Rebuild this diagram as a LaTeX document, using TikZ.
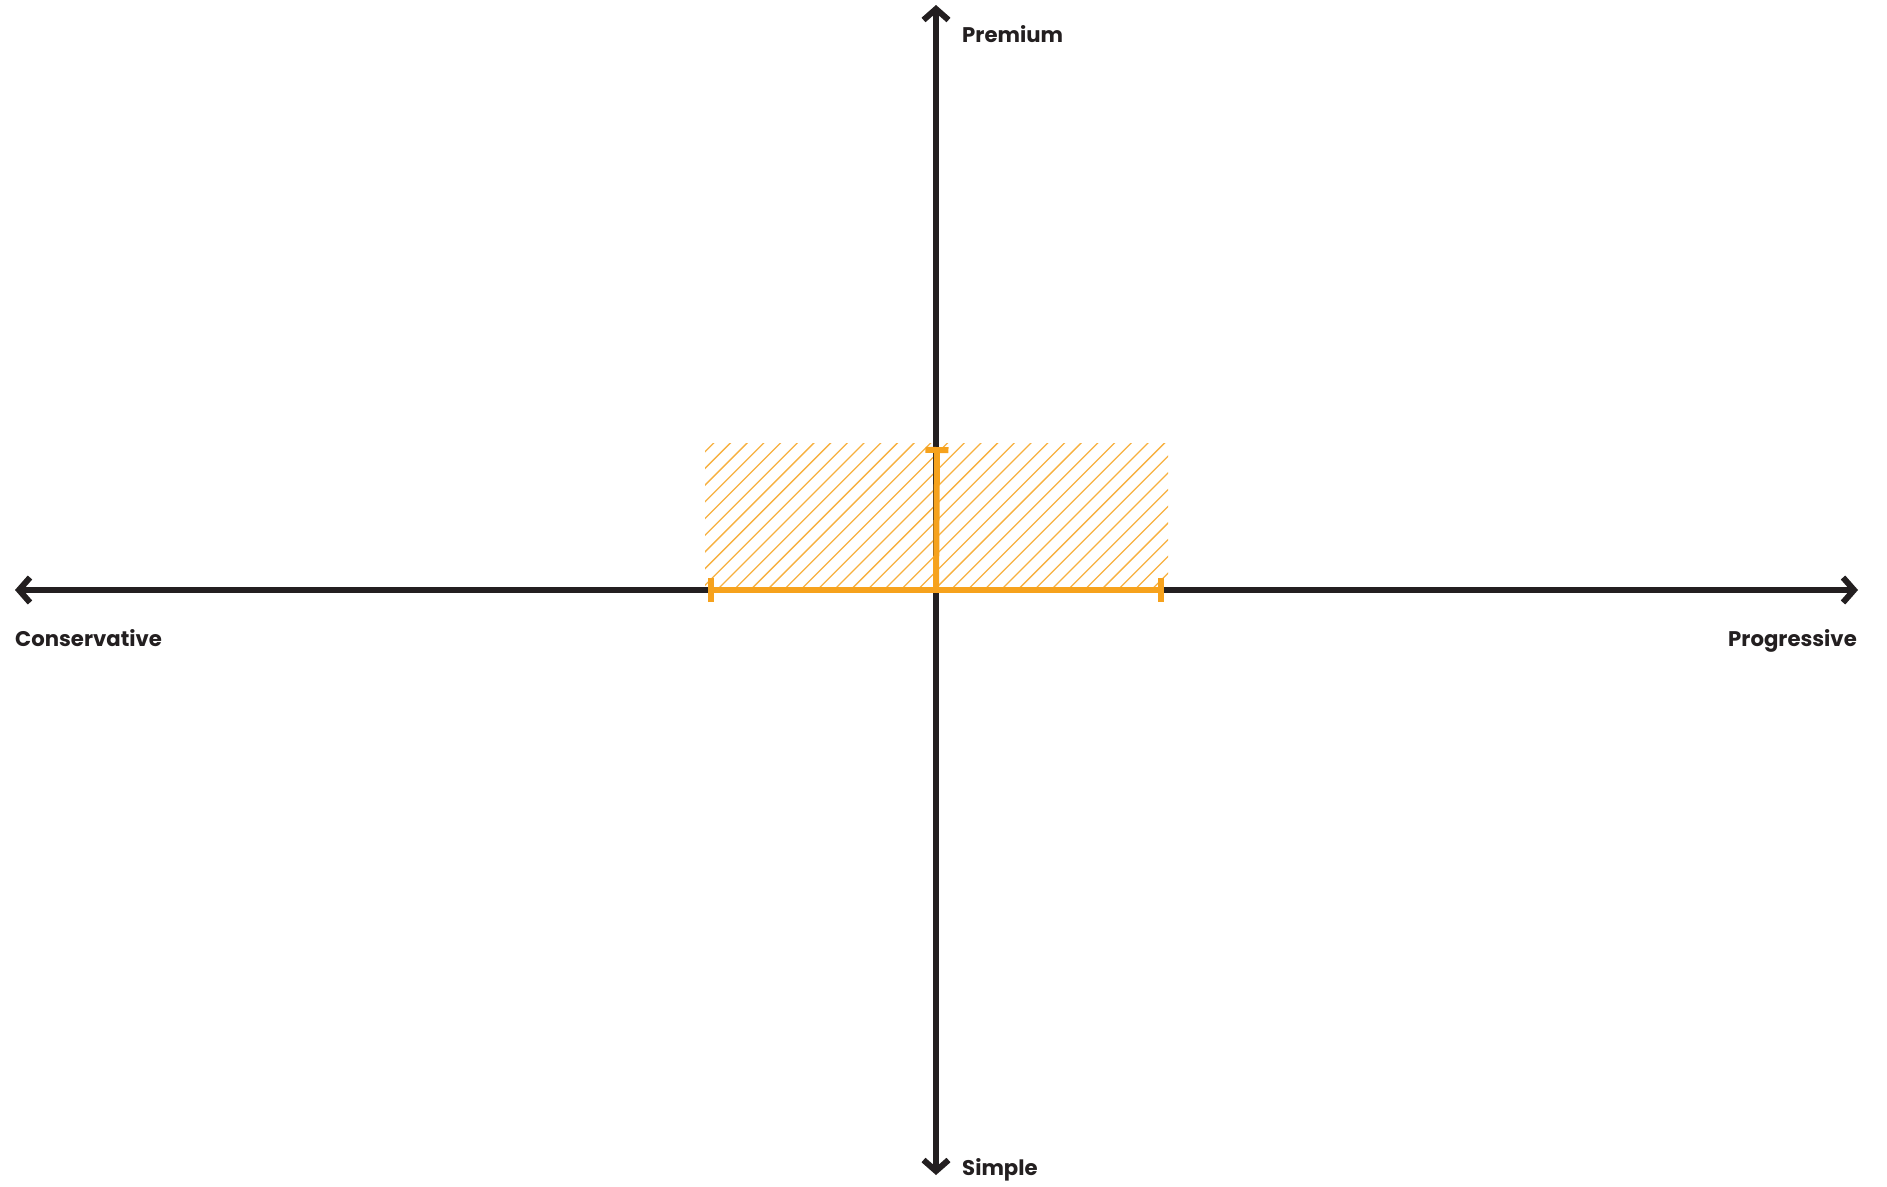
\documentclass[tikz,border=0pt]{standalone}
\usepackage{fontspec}
\setmainfont{Poppins}
\usetikzlibrary{arrows.meta}
\definecolor{axisdark}{HTML}{231F20}
\definecolor{rangeorange}{HTML}{F6A21D}

\begin{document}
\begin{tikzpicture}[x=1pt, y=-1pt,
    font=\fontsize{21.2}{26}\selectfont\bfseries,
    axis/.style={line width=6pt, draw=axisdark,
      {Straight Barb[length=11pt, width=25pt]}-{Straight Barb[length=11pt, width=25pt]}},
    axislabel/.style={inner sep=0pt, text=axisdark},
    rangebar/.style={line width=6pt, draw=rangeorange},
    hatch/.style={line width=1.3pt, draw=rangeorange!85}
  ]
    \useasboundingbox (0,0) rectangle (1887,1186);

    % axes
    \coordinate (origin) at (936,590);
    \coordinate (west) at (15,590);
    \coordinate (east) at (1858,590);
    \coordinate (north) at (936,5);
    \coordinate (south) at (936,1175);

    % hatched target area
    \begin{scope}
      \clip (705,443) rectangle (1168,590);
      \foreach \k in {0,...,38}
        \draw[hatch] (550+\k*16.7,590) -- ++(160,-160);
    \end{scope}

    \draw[axis] (west) -- (east);
    \draw[axis] (south) -- (north);

    \node[axislabel, anchor=base west] (premium) at (962,42) {Premium};
    \node[axislabel, anchor=base west] (simple) at (962,1175) {Simple};
    \node[axislabel, anchor=base west] (conservative) at (15,646) {Conservative};
    \node[axislabel, anchor=base east] (progressive) at (1857,646) {Progressive};

    % range bars
    \coordinate (rangeL) at (708,590);
    \coordinate (rangeR) at (1164,590);
    \coordinate (rangeTop) at (937,447);
    \draw[rangebar, {Bar[width=24pt]}-{Bar[width=24pt]}] (rangeL) -- (rangeR);
    \draw[rangebar, -{Bar[width=23pt]}] (origin) -- (rangeTop);
  \end{tikzpicture}
\end{document}
